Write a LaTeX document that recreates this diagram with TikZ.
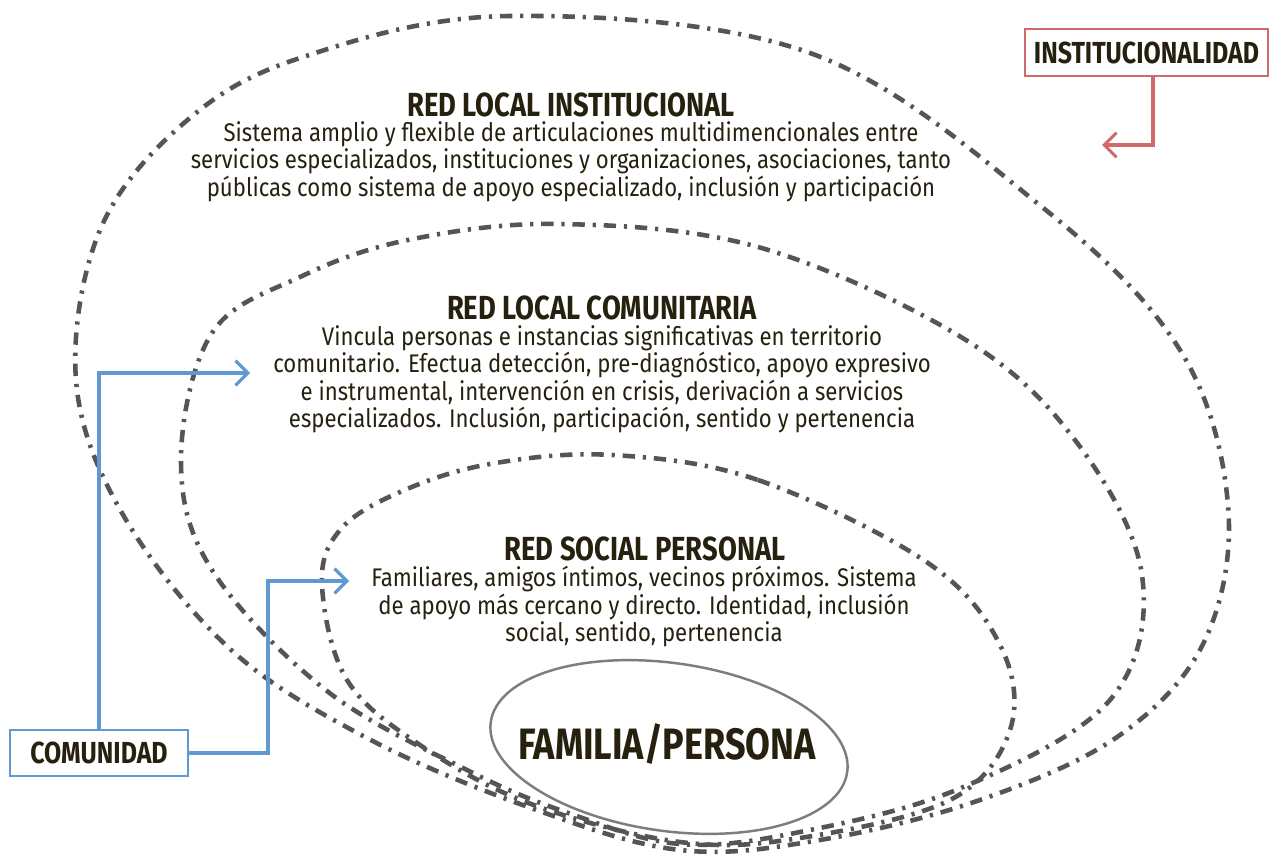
\documentclass[tikz,border=0pt]{standalone}
\usepackage{fontspec}
\setmainfont{Fira Sans}[FakeStretch=0.87]
\newfontfamily\headfont{Fira Sans}[FakeStretch=0.82]
\usetikzlibrary{arrows.meta,calc}
\definecolor{ink}{RGB}{38,33,15}
\definecolor{netgray}{RGB}{85,85,85}
\definecolor{famgray}{RGB}{125,125,125}
\definecolor{comblue}{RGB}{96,152,210}
\definecolor{instred}{RGB}{208,106,106}
\tikzset{
  netline/.style={draw=netgray, line width=2.6pt, line cap=butt,
    dash pattern=on 7pt off 4.5pt on 1.8pt off 4.5pt},
  famline/.style={draw=famgray, line width=1.4pt},
  title/.style={text=ink, font=\headfont\bfseries\fontsize{19}{22}\selectfont, inner sep=0},
  body/.style={text=ink, align=center, font=\fontsize{14.5}{15.7}\selectfont, inner sep=0},
  labelbox/.style={draw, line width=1.5pt, fill=white, inner sep=0, text=ink,
    font=\headfont\bfseries\fontsize{17.3}{19}\selectfont},
  bluearrow/.style={draw=comblue, line width=1.8pt, -{Straight Barb[length=7pt,width=14pt,line width=1.8pt]}},
  redarrow/.style={draw=instred, line width=1.8pt, -{Straight Barb[length=7pt,width=14pt,line width=1.8pt]}},
}
\begin{document}
\begin{tikzpicture}[x=0.02cm,y=-0.02cm]
\useasboundingbox[fill=white] (0,0) rectangle (1272,861);

% outer: red local institucional
\draw[netline] plot[smooth cycle, tension=0.6] coordinates {
 (510,16) (810,53) (1042,207) (1180,350) (1228,505) (1205,640) (1120,735) (980,800) (820,840) (680,850)
 (531,808) (367,738) (229,648) (122,513) (76,380) (100,230) (184,123) (300,58)};
% middle: red local comunitaria
\draw[netline] plot[smooth cycle, tension=0.6] coordinates {
 (560,224) (758,247) (961,337) (1075,440) (1142,575) (1110,700) (961,788) (800,832) (680,844)
 (571,814) (469,771) (327,691) (212,570) (181,460) (212,333) (300,277) (408,240)};
% inner: red social personal
\draw[netline] plot[smooth cycle, tension=0.6] coordinates {
 (612,455) (758,480) (928,563) (1001,647) (1010,730) (950,800) (800,838) (680,842)
 (531,804) (420,745) (347,680) (322,585) (340,530) (400,492) (490,464)};

% familia / persona
\draw[famline, rotate around={-8:(669,747)}] (669,747) ellipse [x radius=3.6cm, y radius=1.68cm];
\node[font=\headfont\bfseries\fontsize{25}{28}\selectfont, text=ink, inner sep=0] (fam) at (667,744) {FAMILIA/PERSONA};

% texts
\node[title] (t1) at (571,105) {RED LOCAL INSTITUCIONAL};
\node[body, anchor=north] (b1) at (571,121) {Sistema amplio y flexible de articulaciones multidimencionales entre\\
servicios especializados, instituciones y organizaciones, asociaciones, tanto\\
públicas como sistema de apoyo especializado, inclusión y participación};

\node[title] (t2) at (602,308) {RED LOCAL COMUNITARIA};
\node[body, anchor=north] (b2) at (602,325) {Vincula personas e instancias significativas en territorio\\
comunitario. Efectua detección, pre-diagnóstico, apoyo expresivo\\
e instrumental, intervención en crisis, derivación a servicios\\
especializados. Inclusión, participación, sentido y pertenencia};

\node[title] (t3) at (645,549) {RED SOCIAL PERSONAL};
\node[body, anchor=north] (b3) at (644,566) {Familiares, amigos íntimos, vecinos próximos. Sistema\\
de apoyo más cercano y directo. Identidad, inclusión\\
social, sentido, pertenencia};

% institucionalidad
\node[labelbox, draw=instred, minimum width=4.86cm, minimum height=0.94cm] (inst) at (1146.5,52.5) {INSTITUCIONALIDAD};
\coordinate (ia) at (1102,145);
\draw[redarrow] ([xshift=0.13cm]inst.south) |- (ia);

% comunidad
\node[labelbox, draw=comblue, minimum width=3.56cm, minimum height=0.92cm] (com) at (99,753) {COMUNIDAD};
\coordinate (ca1) at (250,373);
\coordinate (k2) at (268,581);
\coordinate (ca2) at (349,581);
\draw[bluearrow] (com.north) |- (ca1);
\draw[bluearrow] (com.east) -| (k2) -- (ca2);
\end{tikzpicture}
\end{document}
